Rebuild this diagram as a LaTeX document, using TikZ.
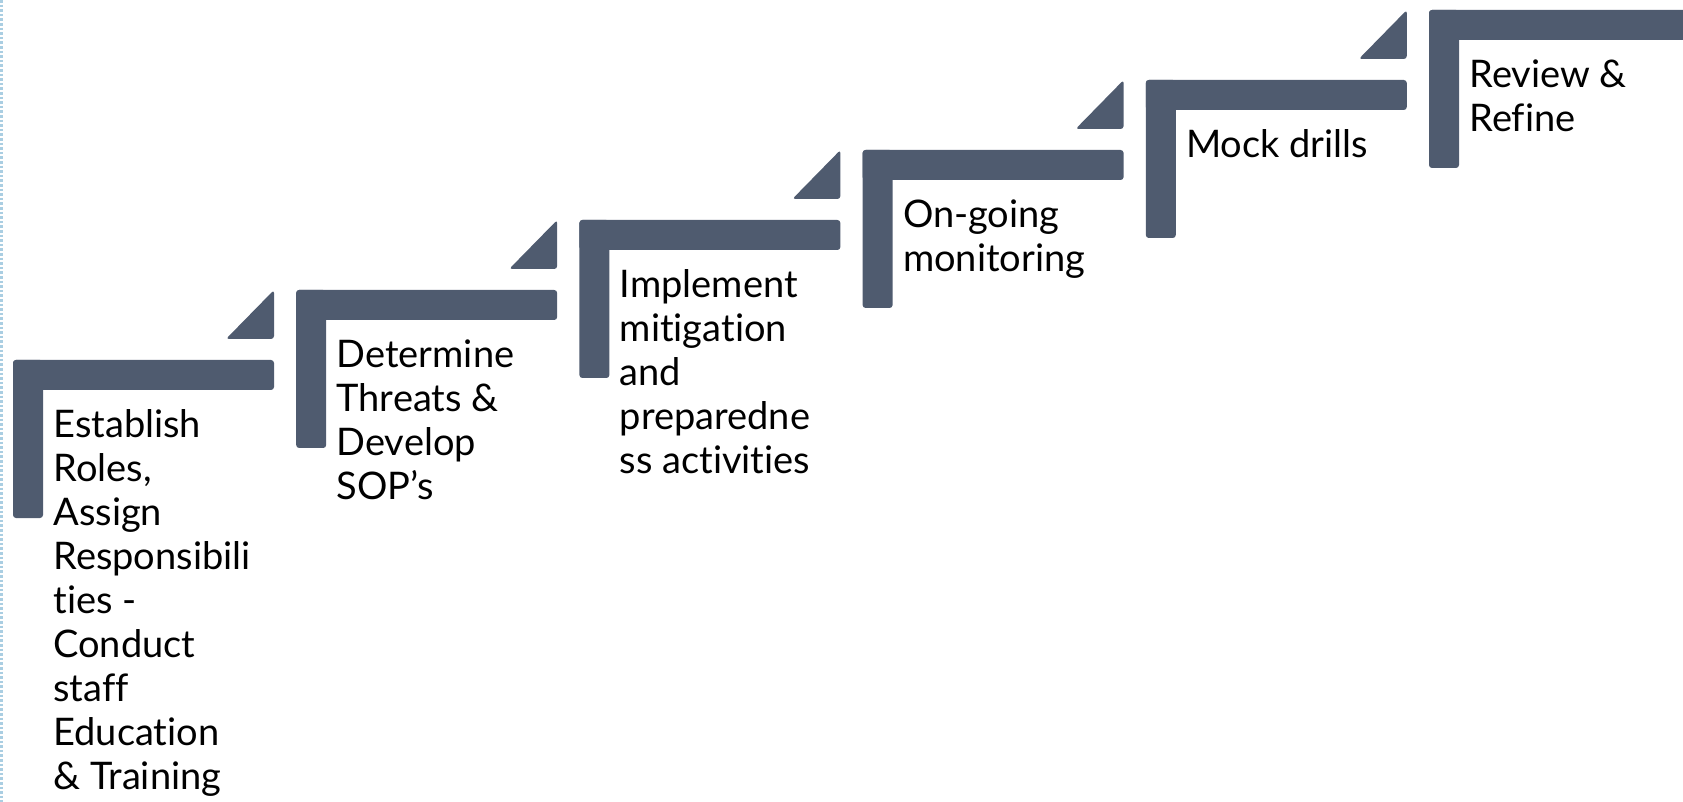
\documentclass[tikz,border=0pt]{standalone}
\usepackage{fontspec}
\setmainfont{Lato}[Ligatures={NoCommon}]
\definecolor{slate}{RGB}{79,91,111}
\definecolor{edgeblue}{RGB}{170,206,226}
\tikzstyle{stair} = [fill=slate, rounded corners=1.5pt]
\tikzstyle{steplabel} = [anchor=north west, inner sep=0pt, align=left, xshift=20pt, yshift=-24.7pt, font=\fontsize{19}{22}\selectfont]

\begin{document}
\begin{tikzpicture}[x=0.5pt, y=-0.5pt]
\useasboundingbox (0,0) rectangle (1683,802);

% Left page rule
\coordinate (R1) at (1.5,0);
\coordinate (R2) at (1.5,802);
\draw [edgeblue, line width=1.3pt, densely dotted] (R1) -- (R2);

% Corners of the stairs
\coordinate (S1) at (13,360);
\coordinate (S2) at (296.2,290);
\coordinate (S3) at (579.4,220);
\coordinate (S4) at (862.6,150);
\coordinate (S5) at (1145.8,80);
\coordinate (S6) at (1429,10);

% Stairs
\fill [stair] (S1) rectangle ++(261,30);
\fill [stair] (S1) rectangle ++(30,158);
\fill [stair] (S1) ++(261,-21) -- ++(-48,0) -- ++(48,-49) -- cycle;

\fill [stair] (S2) rectangle ++(261,30);
\fill [stair] (S2) rectangle ++(30,158);
\fill [stair] (S2) ++(261,-21) -- ++(-48,0) -- ++(48,-49) -- cycle;

\fill [stair] (S3) rectangle ++(261,30);
\fill [stair] (S3) rectangle ++(30,158);
\fill [stair] (S3) ++(261,-21) -- ++(-48,0) -- ++(48,-49) -- cycle;

\fill [stair] (S4) rectangle ++(261,30);
\fill [stair] (S4) rectangle ++(30,158);
\fill [stair] (S4) ++(261,-21) -- ++(-48,0) -- ++(48,-49) -- cycle;

\fill [stair] (S5) rectangle ++(261,30);
\fill [stair] (S5) rectangle ++(30,158);
\fill [stair] (S5) ++(261,-21) -- ++(-48,0) -- ++(48,-49) -- cycle;

\fill [stair] (S6) rectangle ++(270,30);
\fill [stair] (S6) rectangle ++(30,158);

% Labels
\node (T1) [steplabel] at (S1) {Establish\\Roles,\\Assign\\Responsibili\\ties -\\Conduct\\staff\\Education\\\& Training};
\node (T2) [steplabel] at (S2) {Determine\\Threats \&\\Develop\\SOP’s};
\node (T3) [steplabel] at (S3) {Implement\\mitigation\\and\\preparedne\\ss activities};
\node (T4) [steplabel] at (S4) {On-going\\monitoring};
\node (T5) [steplabel] at (S5) {Mock drills};
\node (T6) [steplabel] at (S6) {Review \&\\Refine};

\end{tikzpicture}
\end{document}
